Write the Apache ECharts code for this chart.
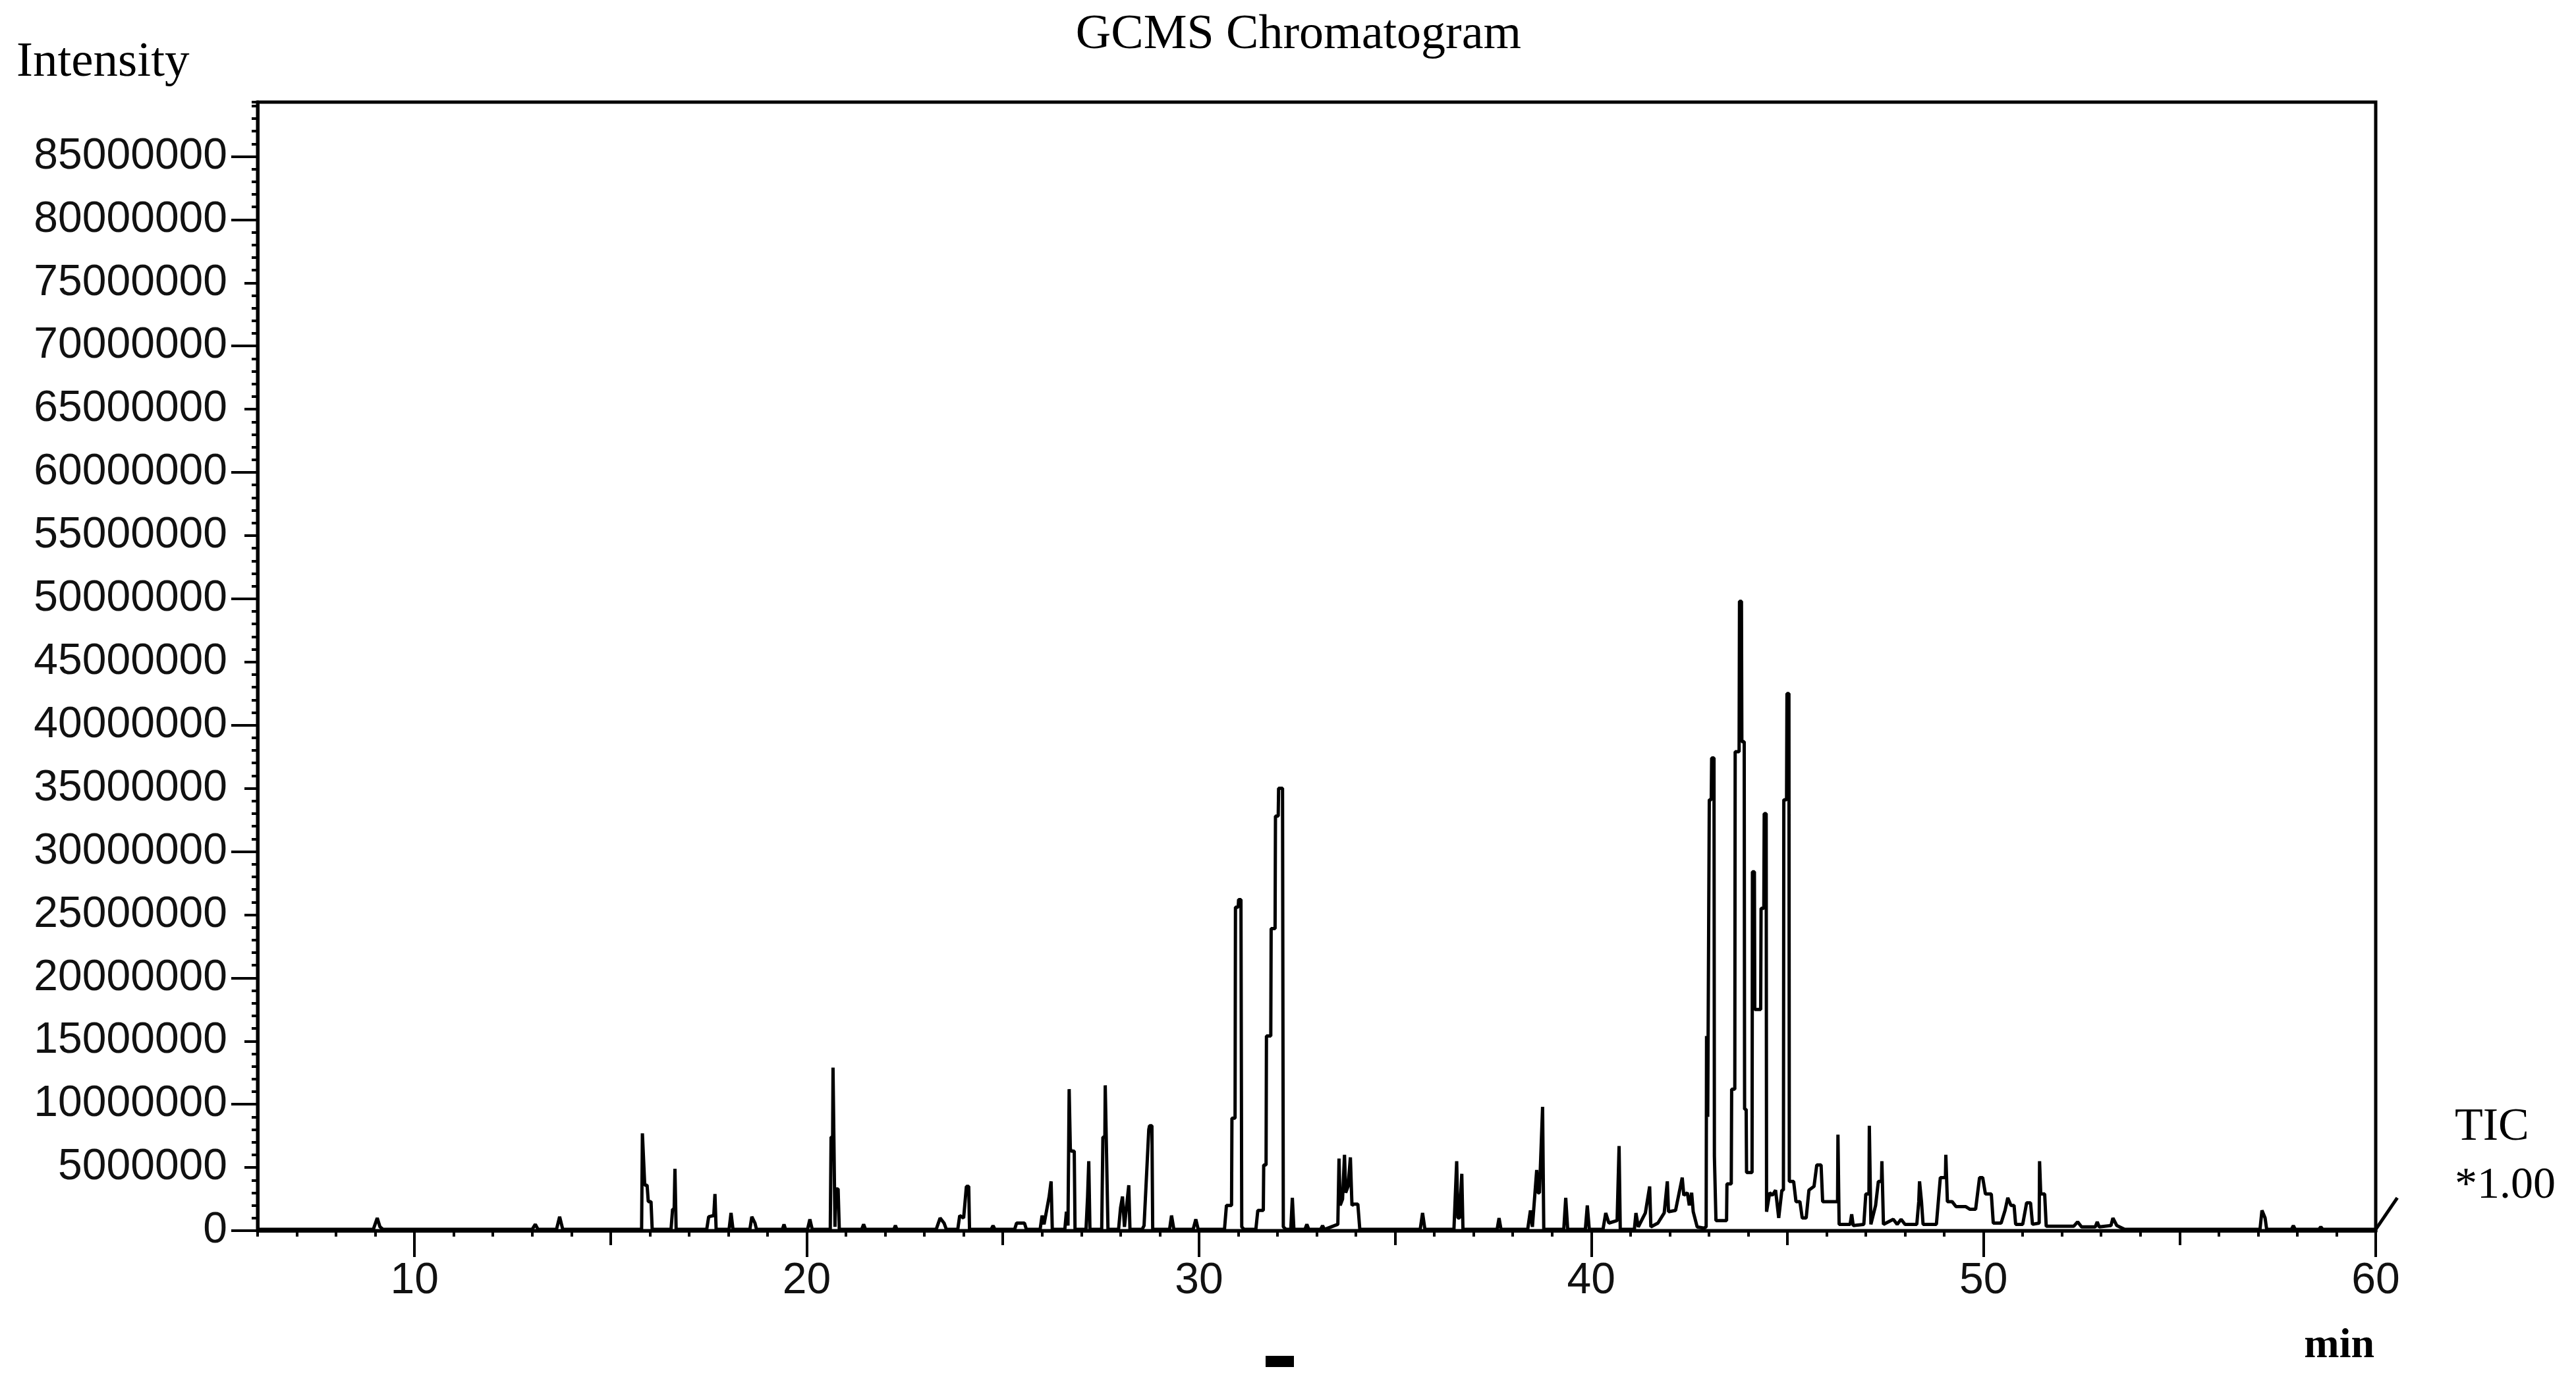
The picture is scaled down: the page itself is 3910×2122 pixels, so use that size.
<!DOCTYPE html>
<html>
<head>
<meta charset="utf-8">
<script src="https://cdn.jsdelivr.net/npm/echarts@6/dist/echarts.min.js"></script>
<style>
html,body{margin:0;padding:0;background:#ffffff;}
#chart{width:3910px;height:2122px;}
</style>
</head>
<body>
<div id="chart"></div>
<script>
// ---- DATA ----
// retention time in minutes
const retentionTime = [
 6.0,
 8.95,9.05,9.12,9.2,
 13.0,13.08,13.15,
 13.62,13.7,13.78,
 15.79,15.81,15.84,15.87,15.93,15.96,16.03,16.06,
 16.54,16.58,16.62,16.64,16.67,
 17.45,17.5,17.63,17.66,17.69,
 18.02,18.07,18.12,
 18.55,18.6,18.68,18.72,
 19.38,19.42,19.46,
 20.02,20.08,20.14,
 20.6,20.62,20.66,20.67,20.7,20.72,20.74,20.8,20.83,
 21.4,21.45,21.5,
 22.22,22.26,22.3,
 23.3,23.4,23.5,23.56,
 23.85,23.9,24.0,24.07,24.13,24.15,
 24.7,24.75,24.8,
 25.3,25.35,25.55,25.6,
 25.95,26.0,26.05,26.18,26.23,26.26,
 26.58,26.62,26.66,26.69,26.72,26.74,26.82,26.84,
 27.12,27.16,27.19,27.22,
 27.52,27.55,27.6,27.61,27.64,27.68,
 27.95,28.0,28.05,28.1,28.21,28.24,
 28.55,28.6,28.72,28.74,28.8,28.82,
 29.25,29.3,29.36,
 29.85,29.92,29.98,
 30.65,30.7,30.83,30.84,30.92,30.93,31.0,31.01,31.07,31.09,31.15,
 31.45,31.5,31.64,31.65,31.71,31.72,31.83,31.84,31.94,31.95,32.02,32.03,32.13,32.15,32.22,
 32.34,32.38,32.42,
 32.7,32.75,32.8,
 33.1,33.15,33.2,
 33.54,33.57,33.6,33.66,33.71,33.74,33.8,33.86,33.9,33.95,34.05,34.1,
 35.64,35.7,35.76,
 36.5,36.57,36.6,36.64,36.7,36.73,
 37.6,37.65,37.7,
 38.38,38.45,38.5,38.61,38.64,38.68,38.76,38.79,
 39.3,39.35,39.4,
 39.85,39.9,39.95,
 40.3,40.37,40.45,40.66,40.71,40.74,
 41.1,41.14,41.2,41.38,41.49,41.52,41.7,41.86,41.94,41.97,42.15,42.32,42.36,42.45,42.5,42.56,42.6,42.7,42.88,
 42.93,42.94,42.96,42.97,43.0,43.01,43.06,43.07,43.13,43.14,43.17,43.18,43.45,43.46,43.57,43.58,43.66,
 43.67,43.77,43.78,43.83,43.84,43.9,43.91,43.95,43.96,44.1,44.11,44.16,44.17,44.32,44.33,44.4,44.41,
 44.46,44.47,44.55,44.62,44.7,44.78,44.86,44.9,44.91,44.98,44.99,45.04,45.05,45.16,45.22,45.32,
 45.38,45.48,45.55,45.68,45.75,45.86,45.9,46.28,46.29,46.32,46.6,46.64,46.68,46.95,47.0,47.08,47.09,47.13,
 47.25,47.32,47.4,47.41,47.45,47.7,47.8,47.9,48.0,48.3,48.35,48.37,48.42,48.46,48.8,48.9,49.03,49.04,49.08,49.2,49.3,
 49.45,49.55,49.65,49.8,49.9,49.98,50.05,50.2,50.25,50.45,50.55,50.62,50.7,50.78,50.82,51.0,51.1,51.2,
 51.25,51.42,51.43,51.46,51.5,51.56,51.6,52.3,52.4,52.5,52.85,52.9,52.95,53.25,53.3,53.4,53.6,
 57.05,57.1,57.18,57.22,
 57.85,57.9,57.95,
 58.55,58.6,58.65,
 60.0,60.55
];
// TIC intensity, in millions of counts (same order as retentionTime)
const intensityMillions = [
 0.1,
 0.1,1.0,0.3,0.1,
 0.1,0.5,0.1,
 0.1,1.1,0.1,
 0.1,7.7,7.7,3.6,3.6,2.3,2.3,0.1,
 0.1,1.7,1.7,4.9,0.1,
 0.1,1.1,1.2,2.9,0.1,
 0.1,1.4,0.1,
 0.1,1.1,0.6,0.1,
 0.1,0.5,0.1,
 0.1,0.9,0.1,
 0.1,7.4,7.4,12.9,12.9,0.3,3.3,3.3,0.1,
 0.1,0.5,0.1,
 0.1,0.4,0.1,
 0.1,1.0,0.6,0.1,
 0.1,1.2,1.0,3.5,3.5,0.1,
 0.1,0.4,0.1,
 0.1,0.6,0.6,0.1,
 0.1,1.2,0.5,2.7,3.9,0.1,
 0.1,1.5,0.4,11.2,6.5,6.3,6.3,0.1,
 0.1,2.7,5.5,0.1,
 0.1,7.4,7.4,11.5,11.5,0.1,
 0.1,1.8,2.7,0.3,3.6,0.1,
 0.1,0.4,8.0,8.3,8.3,0.1,
 0.1,1.2,0.1,
 0.1,0.9,0.1,
 0.1,2.0,2.0,8.9,8.9,25.6,25.6,26.2,26.2,0.3,0.1,
 0.1,1.6,1.6,5.2,5.2,15.4,15.4,23.9,23.9,32.8,32.8,35.0,35.0,0.3,0.1,
 0.1,2.6,0.1,
 0.1,0.5,0.1,
 0.1,0.4,0.1,
 0.5,5.7,2.0,2.5,6.0,3.0,3.5,5.8,2.0,2.1,2.1,0.1,
 0.1,1.4,0.1,
 0.1,5.5,1.0,1.0,4.5,0.1,
 0.1,1.0,0.1,
 0.1,1.6,0.3,4.8,3.0,3.0,9.8,0.1,
 0.1,2.6,0.1,
 0.1,2.0,0.1,
 0.1,1.4,0.6,0.8,6.7,0.1,
 0.1,1.4,0.3,1.4,3.5,0.3,0.6,1.4,3.9,1.5,1.6,4.2,2.8,3.0,2.0,3.0,1.5,0.3,0.2,
 0.3,15.4,15.4,9.0,9.0,34.1,34.1,37.4,37.4,5.9,5.9,0.8,0.8,3.7,3.7,11.2,11.2,
 37.9,37.9,49.8,49.8,38.7,38.7,9.6,9.6,4.6,4.6,28.4,28.4,17.5,17.5,25.5,25.5,33.0,
 33.0,1.5,3.0,2.8,3.2,1.0,3.2,3.2,34.1,34.1,42.5,42.5,3.9,3.9,2.3,2.3,
 1.0,1.0,3.2,3.5,5.2,5.2,2.3,2.3,7.6,0.5,0.5,1.3,0.4,0.5,2.9,2.9,8.3,0.5,
 2.0,3.9,3.9,5.5,0.5,0.9,0.5,0.9,0.5,0.5,2.3,3.9,2.3,0.5,0.5,4.2,4.2,6.0,2.3,2.3,1.9,
 1.9,1.9,1.7,1.7,4.2,4.2,2.9,2.9,0.6,0.6,1.6,2.6,2.0,2.0,0.5,0.5,2.2,2.2,
 0.5,0.6,5.5,2.9,2.9,2.9,0.35,0.35,0.7,0.3,0.3,0.7,0.3,0.4,1.0,0.4,0.1,
 0.1,1.6,1.0,0.1,
 0.1,0.4,0.1,
 0.1,0.3,0.1,
 0.1,2.6
];
// axis ranges and tick steps
const timeRange = [6, 60];
const intensityTop = 89300000;
const intensityLabelTop = 85000000;
const labelStep = 5000000;
const longTickStep = 10000000;
const minorStep = 1000000;
const timeLabelStep = 10;
const timeMidStep = 5;
const timeMinorStep = 1;
const timeFirstLabel = 10;

// ---- LAYOUT ----
const W = 3910, H = 2122;
const L = 391, R = 3606, T = 155, B = 1868;
const pxPerMin = (R - L) / (timeRange[1] - timeRange[0]);
const leftAt10 = L + (timeFirstLabel - timeRange[0]) * pxPerMin;
const topAt85 = B - (intensityLabelTop / intensityTop) * (B - T);

const allPoints = retentionTime.map((t, i) => [t, intensityMillions[i] * 1e6]);
const inRange = allPoints.filter(p => p[0] <= timeRange[1]);
const tail = allPoints.filter(p => p[0] >= timeRange[1]);

const labelFont = {fontFamily: '"Liberation Sans", Arial, sans-serif', fontSize: 66, color: '#111'};
const serif = '"Liberation Serif", "Times New Roman", serif';
const BLACK = '#000';
const LW = 5;
const TRACE_W = 5;

const chart = echarts.init(document.getElementById('chart'), null, {renderer: 'canvas', width: W, height: H});
chart.setOption({
  animation: false,
  backgroundColor: '#ffffff',
  title: {
    text: 'GCMS Chromatogram',
    left: 1966, top: 12, textAlign: 'center',
    textStyle: {fontFamily: serif, fontSize: 74, fontWeight: 'normal', color: BLACK}
  },
  grid: [
    {left: L, right: W - R, top: T, bottom: H - B, show: true, borderColor: BLACK, borderWidth: LW, backgroundColor: 'transparent'},
    {left: leftAt10, right: W - R, top: T, bottom: H - B},
    {left: L, right: W - R, top: topAt85, bottom: H - B}
  ],
  xAxis: [
    {gridIndex: 0, type: 'value', position: 'bottom', min: timeRange[0], max: timeRange[1], interval: timeMinorStep,
     axisLine: {show: true, onZero: false, lineStyle: {color: BLACK, width: LW}},
     axisTick: {show: true, length: 9, lineStyle: {color: BLACK, width: 4}},
     axisLabel: {show: false}, splitLine: {show: false}},
    {gridIndex: 1, type: 'value', position: 'bottom', min: timeFirstLabel, max: timeRange[1], interval: timeMidStep,
     axisLine: {show: false, onZero: false},
     axisTick: {show: true, length: 22, lineStyle: {color: BLACK, width: 4}},
     axisLabel: {show: false}, splitLine: {show: false}},
    {gridIndex: 1, type: 'value', position: 'bottom', min: timeFirstLabel, max: timeRange[1], interval: timeLabelStep,
     axisLine: {show: false, onZero: false},
     axisTick: {show: true, length: 40, lineStyle: {color: BLACK, width: 4}},
     axisLabel: {show: true, margin: 44, ...labelFont}, splitLine: {show: false}},
    {gridIndex: 2, type: 'value', show: false, min: 0, max: 1}
  ],
  yAxis: [
    {gridIndex: 0, type: 'value', position: 'left', min: 0, max: intensityTop, interval: minorStep,
     axisLine: {show: true, onZero: false, lineStyle: {color: BLACK, width: LW}},
     axisTick: {show: true, length: 9, lineStyle: {color: BLACK, width: 4}},
     axisLabel: {show: false}, splitLine: {show: false}},
    {gridIndex: 1, type: 'value', show: false, min: 0, max: 1},
    {gridIndex: 2, type: 'value', position: 'left', min: 0, max: intensityLabelTop, interval: labelStep,
     axisLine: {show: false, onZero: false},
     axisTick: {show: true, length: 20, lineStyle: {color: BLACK, width: 4}},
     axisLabel: {show: true, margin: 46, formatter: v => String(Math.round(v)), ...labelFont},
     splitLine: {show: false}},
    {gridIndex: 2, type: 'value', position: 'left', min: 0, max: intensityLabelTop, interval: longTickStep,
     axisLine: {show: false, onZero: false},
     axisTick: {show: true, length: 40, lineStyle: {color: BLACK, width: 4}},
     axisLabel: {show: false}, splitLine: {show: false}}
  ],
  series: [{
    name: 'TIC',
    type: 'line',
    xAxisIndex: 0, yAxisIndex: 0,
    data: inRange,
    showSymbol: false, symbol: 'none',
    clip: false,
    lineStyle: {color: BLACK, width: TRACE_W},
    z: 5
  }],
  graphic: [
    {type: 'text', x: 25, y: 95, style: {text: 'Intensity', font: '75px ' + serif, fill: BLACK, align: 'left', verticalAlign: 'middle', textAlign: 'left', textVerticalAlign: 'middle'}},
    {type: 'text', x: 3726, y: 1712, style: {text: 'TIC', font: '70px ' + serif, fill: BLACK, align: 'left', verticalAlign: 'middle', textAlign: 'left', textVerticalAlign: 'middle'}},
    {type: 'text', x: 3726, y: 1800, style: {text: '*1.00', font: '68px ' + serif, fill: BLACK, align: 'left', verticalAlign: 'middle', textAlign: 'left', textVerticalAlign: 'middle'}},
    {type: 'text', x: 3604, y: 2043, style: {text: 'min', font: 'bold 64px ' + serif, fill: BLACK, align: 'right', verticalAlign: 'middle', textAlign: 'right', textVerticalAlign: 'middle'}},
    {type: 'rect', shape: {x: 1921, y: 2058, width: 43, height: 17}, style: {fill: BLACK}}
  ]
});

// The trace continues a little past the 60 min frame edge; place it with the axis scale.
const tailPx = tail.map(p => chart.convertToPixel({xAxisIndex: 0, yAxisIndex: 0}, p));
chart.setOption({
  graphic: [{
    id: 'tail', type: 'polyline', shape: {points: tailPx},
    style: {stroke: BLACK, lineWidth: TRACE_W, fill: null}, z: 10
  }]
});
</script>
</body>
</html>
